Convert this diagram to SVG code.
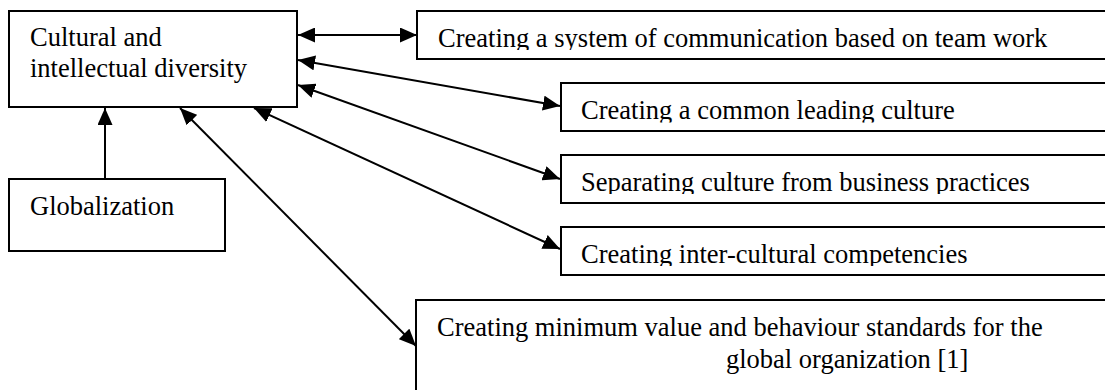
<svg xmlns="http://www.w3.org/2000/svg" width="1105" height="390" viewBox="0 0 1105 390">
<style>
.box{fill:#fff;stroke:#000;stroke-width:2}
.t{font-size:26.5px;fill:#000}
.c{fill:none;stroke:#000;stroke-width:2}
</style>
<defs>
<marker id="ah" markerUnits="userSpaceOnUse" markerWidth="17" markerHeight="15" refX="17" refY="7.5" orient="auto-start-reverse" viewBox="0 0 17 15">
<path d="M0,0 L17,7.5 L0,15 z" fill="#000"/>
</marker>
<clipPath id="c1"><rect x="417" y="11" width="700" height="39"/></clipPath>
<clipPath id="c2"><rect x="561" y="83" width="560" height="39.5"/></clipPath>
<clipPath id="c3"><rect x="561" y="155" width="560" height="39"/></clipPath>
<clipPath id="c4"><rect x="561" y="227" width="560" height="39"/></clipPath>
</defs>
<g id="connectors">
<line class="c" x1="298" y1="35" x2="417" y2="35" marker-start="url(#ah)" marker-end="url(#ah)"/>
<line class="c" x1="298" y1="60" x2="560" y2="106" marker-start="url(#ah)" marker-end="url(#ah)"/>
<line class="c" x1="298" y1="85" x2="560" y2="179" marker-start="url(#ah)" marker-end="url(#ah)"/>
<line class="c" x1="254" y1="108" x2="560" y2="249" marker-start="url(#ah)" marker-end="url(#ah)"/>
<line class="c" x1="180" y1="108" x2="416" y2="346" marker-start="url(#ah)" marker-end="url(#ah)"/>
<line class="c" x1="105" y1="179" x2="105" y2="108" marker-end="url(#ah)"/>
</g>
<g font-family="Liberation Serif, Times New Roman, serif">
<g id="diversity">
<rect class="box" x="9" y="11" width="288" height="96"/>
<text class="t" x="30" y="46">Cultural and</text>
<text class="t" x="30" y="77">intellectual diversity</text>
</g>
<g id="globalization">
<rect class="box" x="9" y="179" width="216" height="72"/>
<text class="t" x="30" y="215">Globalization</text>
</g>
<g id="communication">
<rect class="box" x="417" y="11" width="700" height="48"/>
<text class="t" x="438" y="47" clip-path="url(#c1)">Creating a system of communication based on team work</text>
</g>
<g id="leading-culture">
<rect class="box" x="561" y="83" width="560" height="48"/>
<text class="t" x="581" y="119" clip-path="url(#c2)">Creating a common leading culture</text>
</g>
<g id="separating">
<rect class="box" x="561" y="155" width="560" height="48"/>
<text class="t" x="581" y="191" clip-path="url(#c3)">Separating culture from business practices</text>
</g>
<g id="competencies">
<rect class="box" x="561" y="227" width="560" height="48"/>
<text class="t" x="581" y="262.5" clip-path="url(#c4)">Creating inter-cultural competencies</text>
</g>
<g id="standards">
<rect class="box" x="416" y="300" width="700" height="100"/>
<text class="t" x="437" y="336">Creating minimum value and behaviour standards for the</text>
<text class="t" x="726" y="368">global organization [1]</text>
</g>
</g>
</svg>
